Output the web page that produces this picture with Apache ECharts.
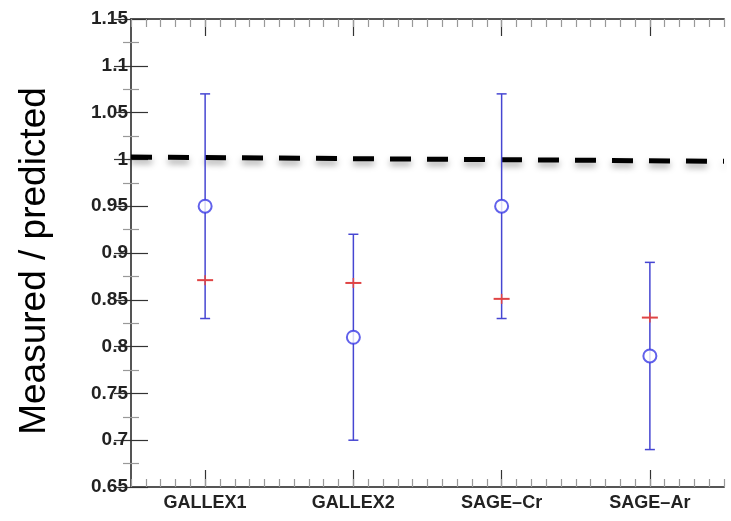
<!DOCTYPE html>
<html>
<head>
<meta charset="utf-8">
<script src="https://cdn.jsdelivr.net/npm/echarts@6/dist/echarts.min.js"></script>
<style>
  html, body { margin: 0; padding: 0; background: #fff; }
  #chart { width: 731px; height: 521px; }
</style>
</head>
<body>
<div id="chart"></div>
<script>
// experiments
const categories = ['GALLEX1', 'GALLEX2', 'SAGE\u2013Cr', 'SAGE\u2013Ar']
// measured / predicted ratio and error range
const measured = [0.95, 0.81, 0.95, 0.79]
const errLow = [0.83, 0.70, 0.83, 0.69]
const errHigh = [1.07, 0.92, 1.07, 0.89]
// red marks
const redMarks = [0.871, 0.868, 0.851, 0.831]
// dashed reference line, left/right ends
const refLine = [[0, 1.0025], [4, 0.998]]

const chart = echarts.init(document.getElementById('chart'))

const axisColor = '#555'
const majorTick = { show: true, inside: true, length: 17, lineStyle: { color: '#333', width: 1.2 } }
const minorTickStyle = { color: '#999', width: 1.2 }

const yAxisBase = {
  type: 'value',
  min: 0.65,
  max: 1.15,
  interval: 0.05,
  axisLine: { show: true, lineStyle: { color: axisColor, width: 2 } },
  axisTick: majorTick,
  minorTick: { show: true, splitNumber: 2, length: 8, lineStyle: minorTickStyle },
  splitLine: { show: false },
  minorSplitLine: { show: false }
}

chart.setOption({
  animation: false,
  grid: { left: 131, top: 19, right: 7, bottom: 34 },
  xAxis: [
    {
      type: 'category',
      position: 'bottom',
      data: categories,
      axisLine: { show: true, lineStyle: { color: axisColor, width: 2 } },
      axisTick: Object.assign({ alignWithLabel: true }, majorTick),
      axisLabel: {
        margin: 7,
        color: '#222',
        fontFamily: 'Liberation Sans',
        fontWeight: 'bold',
        fontSize: 18
      }
    },
    {
      type: 'value',
      position: 'bottom',
      min: 0,
      max: 4,
      interval: 0.1,
      axisLine: { show: false },
      axisTick: { show: true, inside: true, length: 8, lineStyle: minorTickStyle },
      axisLabel: { show: false },
      splitLine: { show: false }
    },
    {
      type: 'category',
      position: 'top',
      data: categories,
      axisLine: { show: true, lineStyle: { color: axisColor, width: 2 } },
      axisTick: Object.assign({ alignWithLabel: true }, majorTick),
      axisLabel: { show: false }
    },
    {
      type: 'value',
      position: 'top',
      min: 0,
      max: 4,
      interval: 0.1,
      axisLine: { show: false },
      axisTick: { show: true, inside: true, length: 8, lineStyle: minorTickStyle },
      axisLabel: { show: false },
      splitLine: { show: false }
    }
  ],
  yAxis: [
    Object.assign({}, yAxisBase, {
      position: 'left',
      axisLabel: {
        margin: 3,
        color: '#222',
        fontFamily: 'Liberation Sans',
        fontWeight: 'bold',
        fontSize: 19,
        formatter: (v) => String(+v.toFixed(3))
      }
    }),
    Object.assign({}, yAxisBase, {
      position: 'right',
      axisLabel: { show: false }
    })
  ],
  graphic: [
    {
      type: 'text',
      x: 35,
      y: 261,
      rotation: Math.PI / 2,
      style: {
        text: 'Measured / predicted',
        fontFamily: 'Liberation Sans',
        fontSize: 37,
        fill: '#000',
        align: 'center',
        verticalAlign: 'middle'
      }
    }
  ],
  series: [
    {
      type: 'line',
      xAxisIndex: 1,
      yAxisIndex: 0,
      data: refLine,
      symbol: 'none',
      lineStyle: {
        color: '#000',
        width: 5,
        type: [21, 16],
        shadowColor: 'rgba(0,0,0,0.35)',
        shadowBlur: 6,
        shadowOffsetY: 4
      },
      z: 1
    },
    {
      type: 'custom',
      xAxisIndex: 0,
      yAxisIndex: 0,
      data: categories.map((c, i) => [i, errLow[i], errHigh[i]]),
      renderItem: (params, api) => {
        const lo = api.coord([api.value(0), api.value(1)])
        const hi = api.coord([api.value(0), api.value(2)])
        const w = 5
        const style = { stroke: '#4646d2', lineWidth: 1.5 }
        return {
          type: 'group',
          children: [
            { type: 'line', shape: { x1: lo[0], y1: lo[1], x2: hi[0], y2: hi[1] }, style },
            { type: 'line', shape: { x1: lo[0] - w, y1: lo[1], x2: lo[0] + w, y2: lo[1] }, style },
            { type: 'line', shape: { x1: hi[0] - w, y1: hi[1], x2: hi[0] + w, y2: hi[1] }, style }
          ]
        }
      },
      z: 2
    },
    {
      type: 'custom',
      xAxisIndex: 0,
      yAxisIndex: 0,
      data: categories.map((c, i) => [i, redMarks[i]]),
      renderItem: (params, api) => {
        const p = api.coord([api.value(0), api.value(1)])
        const style = { stroke: '#e04444', lineWidth: 2 }
        return {
          type: 'group',
          children: [
            { type: 'line', shape: { x1: p[0] - 8, y1: p[1], x2: p[0] + 8, y2: p[1] }, style },
            { type: 'line', shape: { x1: p[0], y1: p[1] - 5, x2: p[0], y2: p[1] + 5 }, style: { stroke: '#e04444', lineWidth: 1.5 } }
          ]
        }
      },
      z: 3
    },
    {
      type: 'scatter',
      xAxisIndex: 0,
      yAxisIndex: 0,
      data: categories.map((c, i) => [i, measured[i]]),
      symbol: 'emptyCircle',
      symbolSize: 13,
      itemStyle: { color: '#3a3ae6', borderWidth: 2 },
      z: 4
    }
  ]
})
</script>
</body>
</html>
